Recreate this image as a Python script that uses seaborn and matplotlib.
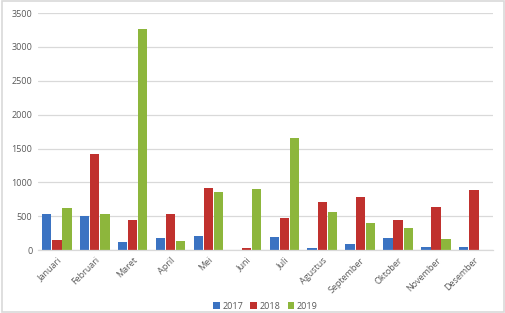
import matplotlib
matplotlib.use("Agg")
import matplotlib.pyplot as plt
import seaborn as sns
import pandas as pd
from matplotlib.patches import Rectangle

months = ["Januari", "Februari", "Maret", "April", "Mei", "Juni", "Juli",
          "Agustus", "September", "Oktober", "November", "Desember"]
years = ["2017", "2018", "2019"]
v2017 = [540, 500, 123, 172, 207, 5, 197, 30, 89, 177, 48, 40]
v2018 = [145, 1420, 443, 540, 920, 30, 477, 704, 788, 438, 640, 886]
v2019 = [625, 527, 3260, 133, 861, 901, 1654, 561, 394, 325, 158, 0]
yticks = [0, 500, 1000, 1500, 2000, 2500, 3000, 3500]

colors = ["#3B73C2", "#C0312E", "#8DB63C"]

rows = []
for y, vals in zip(years, [v2017, v2018, v2019]):
    for m, v in zip(months, vals):
        rows.append({"Bulan": m, "Tahun": y, "Nilai": v})
df = pd.DataFrame(rows)

sns.set_theme(style="white")
plt.rcParams["font.family"] = ["Open Sans", "DejaVu Sans"]

fig = plt.figure(figsize=(5.06, 3.13), dpi=100)
ax = fig.add_axes([0.075, 0.201, 0.899, 0.757])

sns.barplot(data=df, x="Bulan", y="Nilai", hue="Tahun", order=months,
            hue_order=years, palette=colors, width=0.8, gap=0.08,
            ax=ax, legend=True, saturation=1, edgecolor="none")

ax.set_ylim(0, 3500)
ax.set_xlim(-0.5, len(months) - 0.5)
ax.set_yticks(yticks)
ax.set_yticklabels([str(t) for t in yticks], fontsize=6.5, color="#595959")
ax.set_xticks(range(len(months)))
ax.set_xticklabels(months, rotation=45, ha="right", rotation_mode="anchor",
                   fontsize=6.5, color="#595959")
ax.tick_params(axis="both", length=0, pad=4)
ax.set_xlabel("")
ax.set_ylabel("")
ax.yaxis.grid(True, color="#D9D9D9", linewidth=0.9)
ax.set_axisbelow(True)
for s in ["left", "right", "top"]:
    ax.spines[s].set_visible(False)
ax.spines["bottom"].set_color("#D9D9D9")
ax.spines["bottom"].set_linewidth(0.9)

leg = ax.legend(loc="center", bbox_to_anchor=(0.5, -0.236), ncol=3,
                frameon=False, fontsize=6.5, handlelength=0.7, handleheight=0.7,
                handletextpad=0.3, columnspacing=0.8, borderpad=0.1)
for t in leg.get_texts():
    t.set_color("#595959")

fig.patches.append(Rectangle((0.003, 0.003), 0.994, 0.994, transform=fig.transFigure,
                             fill=False, edgecolor="#D9D9D9", linewidth=1.2))

fig.savefig("out.png", dpi=100)
